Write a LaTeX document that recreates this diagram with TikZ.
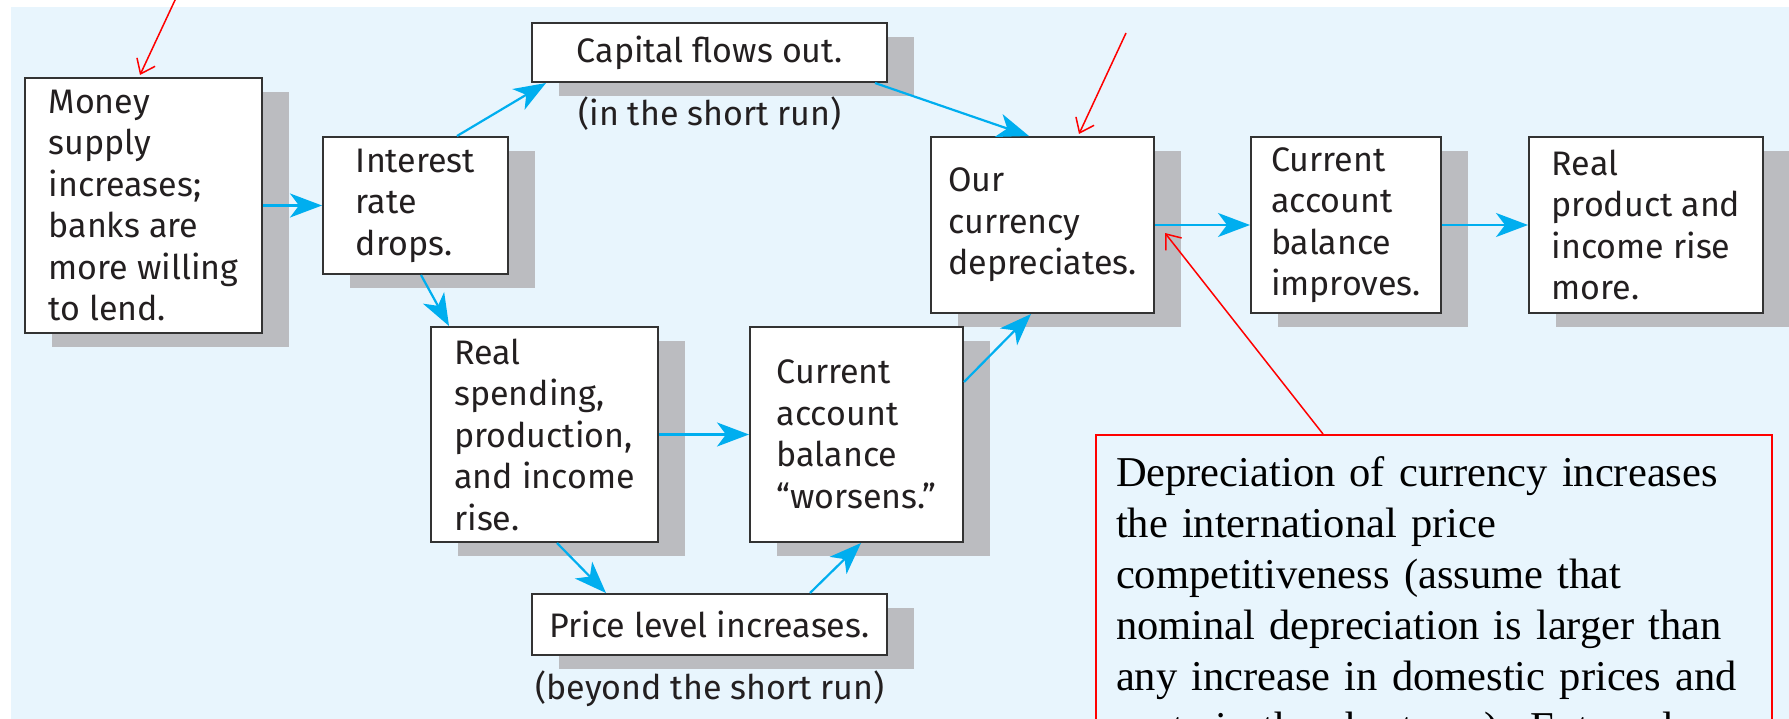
\documentclass[tikz,border=0pt]{standalone}
\usepackage{fontspec}
\setmainfont{Liberation Serif}
\newfontfamily\flowfont{Fira Sans}
\usetikzlibrary{arrows.meta,shadows}

\definecolor{bgblue}{HTML}{E8F5FD}
\definecolor{shadowgray}{HTML}{BBBCC0}
\definecolor{flowcyan}{HTML}{00AEEF}
\definecolor{boxline}{HTML}{333333}
\definecolor{inkgray}{HTML}{231F20}

\tikzset{
  >={Stealth[length=32pt,width=24pt,inset=9pt]},
  stepbox/.style={draw=boxline, line width=2pt, fill=white, align=left,
    inner sep=3pt, text=inkgray, font=\flowfont\fontsize{34}{41.5}\selectfont,
    drop shadow={shadow xshift=27pt, shadow yshift=-14pt, fill=shadowgray, opacity=1}},
  runlabel/.style={text=inkgray, font=\flowfont\fontsize{34}{41.5}\selectfont},
  flow/.style={->, draw=flowcyan, fill=flowcyan, line width=2.2pt},
  cmt/.style={draw=red, line width=1.5pt, -{Straight Barb[length=13pt,width=20pt]}},
  note/.style={draw=red, line width=2pt, anchor=north west, align=left,
    text width=636pt, inner xsep=20pt, inner ysep=22pt,
    font=\fontsize{42.5}{51}\selectfont}
}

\begin{document}
\begin{tikzpicture}[x=1pt,y=-1pt]
  \useasboundingbox (0,0) rectangle (1789,719);
  \clip (0,0) rectangle (1789,719);
  \fill[bgblue] (11,7) rectangle (1789,719);

  \node[stepbox, minimum width=237pt, minimum height=255pt] (money) at (143.5,205.5)
    {Money\\supply\\increases;\\banks are\\more willing\\to lend.};
  \node[stepbox, minimum width=185pt, minimum height=137pt] (rate) at (415.5,205.5)
    {Interest\\rate\\drops.};
  \node[stepbox, minimum width=355pt, minimum height=59pt] (capital) at (709.5,52.5)
    {Capital flows out.};
  \node[runlabel] (shortrun) at (710,114) {(in the short run)};
  \node[stepbox, minimum width=223pt, minimum height=176pt] (depr) at (1042.5,225)
    {Our\\currency\\depreciates.};
  \node[stepbox, minimum width=190pt, minimum height=176pt] (improve) at (1346,225)
    {Current\\account\\balance\\improves.};
  \node[stepbox, minimum width=234pt, minimum height=176pt] (realprod) at (1646,225)
    {Real\\product and\\income rise\\more.};
  \node[stepbox, minimum width=227pt, minimum height=215pt] (spend) at (544.5,434.5)
    {Real\\spending,\\production,\\and income\\rise.};
  \node[stepbox, minimum width=213pt, minimum height=215pt] (worsen) at (856.5,434.5)
    {Current\\account\\balance\\“worsens.”};
  \node[stepbox, minimum width=355pt, minimum height=61pt] (price) at (709.5,624.5)
    {Price level increases.};
  \node[runlabel] (beyondrun) at (710,689) {(beyond the short run)};

  \draw[flow] (money.east) -- (rate.west);
  \draw[flow] ([xshift=41.5pt]rate.north) -- ([xshift=15pt]capital.south west);
  \draw[flow] ([xshift=-13pt]capital.south east) -- ([xshift=-13.5pt]depr.north);
  \draw[flow] ([xshift=5.5pt]rate.south) -- ([xshift=19pt]spend.north west);
  \draw[flow] (spend.east) -- (worsen.west);
  \draw[flow] ([xshift=12.5pt]spend.south) -- ([xshift=75pt]price.north west);
  \draw[flow] ([xshift=-78pt]price.north east) -- ([xshift=4.5pt]worsen.south);
  \draw[flow] ([yshift=52.5pt]worsen.east) -- ([xshift=-11.5pt]depr.south);
  \draw[flow] (depr.east) -- (improve.west);
  \draw[flow] (improve.east) -- (realprod.west);

  \node[note] (note) at (1095,434)
    {Depreciation of currency increases\\the international price\\competitiveness (assume that\\nominal depreciation is larger than\\any increase in domestic prices and\\costs in the short run). External};

  \coordinate (cmtone) at (176,-2);
  \coordinate (cmttwo) at (1126,33);
  \coordinate (cmtthree) at ([xshift=228pt]note.north west);
  \draw[cmt] (cmtone) -- ([xshift=-3.5pt,yshift=2pt]money.north);
  \draw[cmt] (cmttwo) -- ([xshift=36.5pt,yshift=2pt]depr.north);
  \draw[cmt] (cmtthree) -- ([xshift=10pt,yshift=-8pt]depr.east);
\end{tikzpicture}
\end{document}
